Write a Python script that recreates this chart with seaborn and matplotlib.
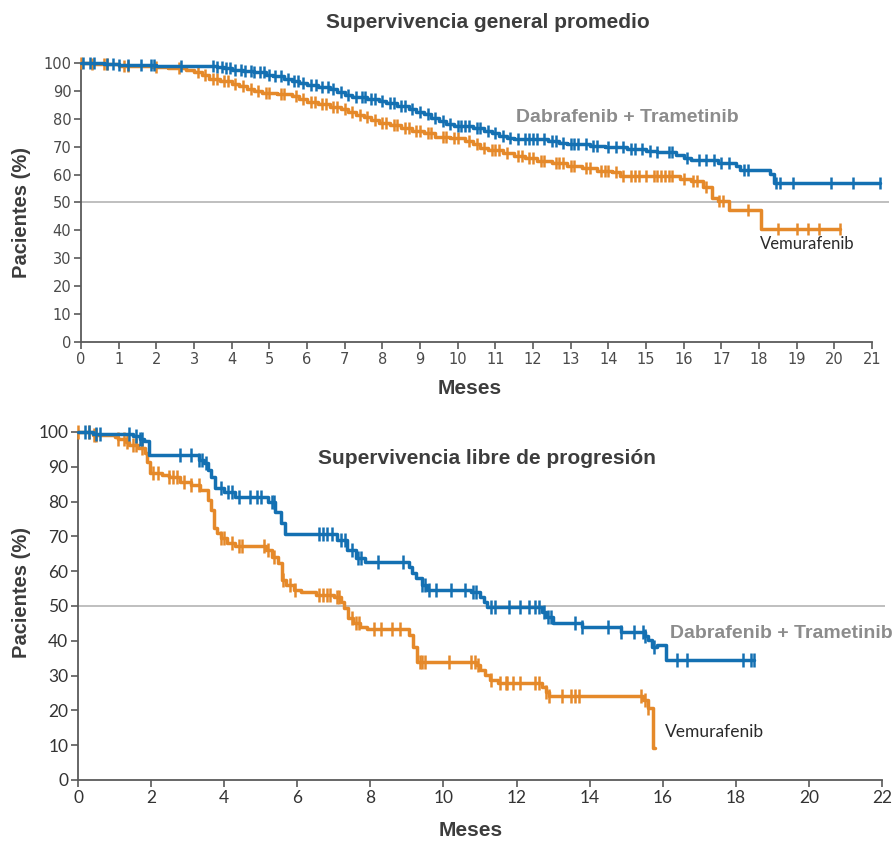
import numpy as np
import pandas as pd
import matplotlib
matplotlib.use("Agg")
import matplotlib.pyplot as plt
import seaborn as sns

# ---------------- DATA ----------------
# Overall survival (top) - step knots (months, %)
os_dt_t = [0, 0.6, 1.0, 2.0, 3.6, 3.8, 4.0, 4.3, 4.6, 4.9, 5.1, 5.4, 5.6, 5.8, 6.0, 6.3, 6.6, 6.8,
           7.0, 7.2, 7.6, 7.9, 8.1, 8.4, 8.7, 8.9, 9.1, 9.3, 9.5, 9.7, 9.9, 10.4, 10.7, 10.9, 11.1,
           11.3, 11.5, 12.4, 12.7, 12.9, 13.5, 13.9, 14.5, 15.0, 15.3, 15.8, 16.0, 16.2, 16.9, 17.4,
           17.5, 18.3, 18.4, 21.2]
os_dt_s = [100, 99.5, 99.2, 99.0, 98.7, 98.2, 97.6, 97.2, 96.6, 95.8, 95.2, 94.4, 93.6, 92.8, 92.0,
           91.4, 90.8, 89.6, 88.6, 87.8, 87.2, 86.4, 85.6, 84.6, 83.6, 82.4, 81.6, 80.4, 79.2, 78.2,
           77.4, 76.8, 75.8, 75.0, 74.0, 73.2, 72.7, 72.0, 71.4, 70.8, 70.4, 69.8, 69.2, 68.6, 68.1,
           67.2, 66.0, 65.4, 64.2, 63.0, 61.6, 60.3, 57.1, 57.1]
os_v_t = [0, 0.3, 1.0, 1.9, 2.3, 2.8, 3.0, 3.2, 3.4, 3.7, 4.0, 4.2, 4.4, 4.6, 4.8, 5.2, 5.6, 5.8, 6.0,
          6.3, 6.6, 6.9, 7.1, 7.3, 7.5, 7.7, 7.9, 8.2, 8.5, 8.8, 9.1, 9.4, 9.8, 10.2, 10.4, 10.6, 10.8,
          11.2, 11.5, 11.8, 12.1, 12.5, 12.9, 13.3, 13.7, 14.1, 14.3, 15.9, 16.2, 16.5, 16.75, 16.9,
          17.2, 18.05, 20.15]
os_v_s = [100, 99.5, 99.0, 98.6, 98.1, 97.4, 96.6, 95.6, 94.4, 93.4, 92.6, 91.6, 90.6, 90.0, 89.4,
          88.8, 88.0, 87.2, 86.2, 85.2, 84.4, 83.6, 82.6, 81.4, 80.6, 79.6, 78.6, 77.8, 76.8, 75.8,
          74.8, 73.6, 73.0, 72.2, 70.8, 69.6, 68.8, 67.8, 66.8, 65.8, 64.8, 64.0, 63.2, 62.4, 61.4,
          60.8, 59.6, 58.4, 57.6, 55.6, 51.6, 50.6, 47.3, 40.5, 40.5]
os_dt_cens = [0.05, 0.25, 0.35, 0.7, 0.85, 1.0, 1.25, 1.6, 1.85, 1.95, 2.65, 3.5, 3.6, 3.75, 3.85,
              3.95, 4.1, 4.25, 4.35, 4.5, 4.6, 4.75, 4.85, 5.0, 5.15, 5.3, 5.5, 5.65, 5.75, 5.9, 6.1,
              6.25, 6.4, 6.55, 6.7, 6.9, 7.1, 7.3, 7.45, 7.55, 7.7, 7.8, 8.0, 8.2, 8.3, 8.5, 8.6,
              8.8, 9.0, 9.2, 9.4, 9.6, 9.8, 10.0, 10.1, 10.2, 10.3, 10.5, 10.6, 10.8, 11.0, 11.2,
              11.4, 11.6, 11.8, 11.9, 12.0, 12.1, 12.3, 12.5, 12.6, 12.8, 13.0, 13.1, 13.2, 13.4,
              13.6, 13.7, 14.0, 14.2, 14.4, 14.6, 14.7, 14.9, 15.1, 15.3, 15.6, 15.7, 16.1, 16.4,
              16.6, 16.8, 17.0, 17.2, 17.6, 17.7, 18.45, 18.55, 18.9, 19.9, 20.5, 21.2]
os_v_cens = [0.0, 0.3, 0.6, 0.7, 1.15, 1.25, 2.0, 2.6, 3.1, 3.3, 3.5, 3.6, 3.8, 3.9, 4.1, 4.3, 4.5,
             4.7, 4.9, 5.0, 5.3, 5.4, 5.7, 5.9, 6.1, 6.2, 6.4, 6.5, 6.7, 6.8, 7.0, 7.2, 7.4, 7.6,
             7.8, 8.0, 8.1, 8.3, 8.4, 8.6, 8.7, 8.9, 9.0, 9.2, 9.3, 9.6, 9.7, 9.9, 10.0, 10.3, 10.5,
             10.7, 10.9, 11.0, 11.1, 11.3, 11.6, 11.7, 11.9, 12.0, 12.2, 12.3, 12.6, 12.7, 12.8,
             13.0, 13.1, 13.4, 13.5, 13.8, 13.9, 14.0, 14.2, 14.4, 14.6, 14.7, 14.8, 15.0, 15.2,
             15.3, 15.4, 15.5, 15.6, 15.7, 16.0, 16.25, 16.35, 16.6, 16.95, 17.05, 17.7, 18.5,
             19.0, 19.3, 19.6, 20.15]

# Progression-free survival (bottom)
pfs_dt_t = [0, 0.4, 1.5, 1.7, 1.8, 1.95, 3.3, 3.45, 3.55, 3.65, 3.75, 4.0, 4.3, 5.2, 5.4, 5.55,
            5.65, 7.1, 7.35, 7.6, 7.85, 9.05, 9.15, 9.25, 9.4, 9.55, 10.75, 11.0, 11.1, 11.2, 12.7,
            12.8, 13.0, 13.8, 14.85, 15.5, 15.6, 15.7, 15.85, 16.1, 18.5]
pfs_dt_s = [100, 99.3, 98.8, 98.0, 97.5, 93.4, 92.0, 91.0, 89.0, 87.0, 84.0, 82.8, 81.3, 79.9, 77.0,
            73.8, 70.7, 69.0, 66.1, 63.8, 62.6, 61.2, 59.5, 58.0, 56.0, 54.6, 54.0, 52.6, 51.1,
            49.7, 48.3, 46.8, 45.1, 44.0, 42.6, 41.5, 40.2, 38.2, 38.8, 34.5, 34.5]
pfs_v_t = [0, 0.4, 1.0, 1.1, 1.3, 1.4, 1.65, 1.83, 1.9, 1.97, 2.3, 2.5, 2.8, 3.1, 3.35, 3.57, 3.65,
           3.72, 3.8, 3.9, 4.07, 4.3, 5.15, 5.3, 5.48, 5.57, 5.7, 5.9, 6.1, 6.5, 7.0, 7.2, 7.28,
           7.4, 7.53, 7.72, 7.9, 9.05, 9.17, 9.27, 10.9, 11.0, 11.13, 11.27, 11.5, 12.7, 12.8,
           12.9, 15.45, 15.6, 15.73, 15.8]
pfs_v_s = [100, 99.1, 98.7, 98.0, 97.1, 96.2, 95.5, 94.0, 91.4, 88.2, 87.6, 87.1, 85.7, 84.8, 83.3,
           80.5, 77.6, 72.4, 71.0, 69.5, 68.1, 67.3, 66.1, 64.1, 62.3, 57.5, 56.0, 54.6, 54.0,
           53.2, 52.6, 51.1, 49.4, 46.5, 45.1, 44.0, 43.4, 41.7, 38.2, 33.9, 33.0, 31.6, 30.2,
           28.7, 27.9, 26.8, 25.4, 24.0, 23.0, 20.7, 9.2, 9.2]
pfs_dt_cens = [0.2, 0.3, 0.5, 0.6, 1.4, 1.6, 1.7, 1.75, 2.8, 3.1, 3.3, 3.4, 3.5, 3.9, 4.1, 4.2,
               4.4, 4.7, 4.9, 5.0, 5.3, 5.35, 6.6, 6.7, 6.8, 6.95, 7.2, 7.3, 7.5, 7.65, 7.75, 8.2,
               8.9, 9.4, 9.5, 9.6, 9.8, 10.2, 10.6, 10.8, 10.9, 11.3, 11.4, 11.8, 12.1, 12.35,
               12.5, 12.6, 12.75, 12.85, 12.95, 13.6, 13.8, 14.5, 14.85, 15.2, 15.45, 15.5, 15.75,
               16.4, 16.65, 18.2, 18.4, 18.5]
pfs_v_cens = [0.0, 0.3, 0.45, 0.5, 1.1, 1.25, 1.35, 1.5, 1.6, 1.75, 2.05, 2.2, 2.5, 2.6, 2.7, 2.9,
              3.1, 3.3, 3.9, 4.0, 4.2, 4.4, 4.5, 5.1, 5.2, 5.35, 5.6, 5.8, 5.95, 6.6, 6.7, 6.8,
              6.9, 7.1, 7.15, 7.5, 7.6, 7.7, 8.1, 8.3, 8.6, 8.8, 9.35, 9.4, 9.5, 10.15, 10.75,
              10.85, 10.95, 11.3, 11.55, 11.7, 11.75, 11.9, 12.1, 12.5, 12.6, 12.8, 12.9, 13.25,
              13.5, 13.6, 13.7, 15.4, 15.5, 15.6]

# ---------------- STYLE ----------------
sns.set_theme(style="white")
plt.rcParams["font.family"] = ["DejaVu Sans"]
BLUE = "#1470b2"
ORANGE = "#e5892a"
DARK = "#3d3d3d"
GRAYLBL = "#8c8c8c"

W, H = 892, 841
fig = plt.figure(figsize=(W / 100, H / 100), dpi=100)


def px_rect(left, right, top, bottom):
    return [left / W, 1 - bottom / H, (right - left) / W, (bottom - top) / H]


def step_df(t, s):
    return pd.DataFrame({"t": t, "s": s})


def cens_df(t, s, c):
    t = np.asarray(t)
    s = np.asarray(s)
    idx = np.searchsorted(t, c, side="right") - 1
    return pd.DataFrame({"t": c, "s": s[idx]})


def draw_km(ax, t, s, cens, color, msize, z):
    sns.lineplot(data=step_df(t, s), x="t", y="s", ax=ax, color=color, linewidth=2.5,
                 drawstyle="steps-post", estimator=None, sort=False, zorder=z, clip_on=False)
    sns.scatterplot(data=cens_df(t, s, cens), x="t", y="s", ax=ax, color=color, marker="|",
                    s=msize, linewidth=1.8, zorder=z, clip_on=False)


def style_axes(ax, xmax, xbound, xticks, tickfont, ticksize, tickcolor):
    ax.set_xlim(0, xmax)
    ax.set_ylim(0, 100)
    for sp in ["top", "right"]:
        ax.spines[sp].set_visible(False)
    for sp in ["left", "bottom"]:
        ax.spines[sp].set_color("#5a5a5a")
        ax.spines[sp].set_linewidth(1.3)
    ax.spines["bottom"].set_bounds(0, xbound)
    ax.set_xticks(xticks)
    ax.set_yticks(range(0, 101, 10))
    ax.tick_params(axis="both", direction="out", length=5, width=1.2, color="#5a5a5a",
                   labelsize=ticksize, labelcolor=tickcolor, pad=2, left=True, bottom=True,
                   labelfontfamily=tickfont)
    ax.axhline(50, color="#b4b4b4", linewidth=1.2, zorder=1)
    ax.set_xlabel("")
    ax.set_ylabel("")
    ax.patch.set_alpha(0)


# ---------------- TOP: overall survival ----------------
ax1 = fig.add_axes(px_rect(81, 889, 63, 342))
draw_km(ax1, os_v_t, os_v_s, os_v_cens, ORANGE, 75, 3)
draw_km(ax1, os_dt_t, os_dt_s, os_dt_cens, BLUE, 75, 4)
style_axes(ax1, 21.45, 21, list(range(0, 22)), "DejaVu Sans", 10.5, "#4a4a4a")

# ---------------- BOTTOM: progression-free survival ----------------
ax2 = fig.add_axes(px_rect(78, 885, 432, 780))
draw_km(ax2, pfs_v_t, pfs_v_s, pfs_v_cens, ORANGE, 95, 3)
draw_km(ax2, pfs_dt_t, pfs_dt_s, pfs_dt_cens, BLUE, 95, 4)
style_axes(ax2, 22.08, 22, list(range(0, 23, 2)), "Lato", 12.5, "#333333")

# ---------------- TEXTS ----------------
def ftext(x, y, s, **kw):
    fig.text(x / W, 1 - y / H, s, **kw)


BOLD = dict(family=["Liberation Sans", "DejaVu Sans"], fontweight="bold")
ftext(488, 22, "Supervivencia general promedio", ha="center", va="center", fontsize=15,
      color=DARK, **BOLD)
ftext(487, 458, "Supervivencia libre de progresión", ha="center", va="center", fontsize=15,
      color=DARK, **BOLD)
ftext(22, 213, "Pacientes (%)", ha="center", va="center", rotation=90, fontsize=14.5,
      color=DARK, **BOLD)
ftext(22, 592, "Pacientes (%)", ha="center", va="center", rotation=90, fontsize=14.5,
      color=DARK, **BOLD)
ftext(470, 388, "Meses", ha="center", va="center", fontsize=15, color=DARK, **BOLD)
ftext(471, 830, "Meses", ha="center", va="center", fontsize=15, color=DARK, **BOLD)
ftext(516, 117, "Dabrafenib + Trametinib", ha="left", va="center", fontsize=14,
      color=GRAYLBL, **BOLD)
ftext(670, 633, "Dabrafenib + Trametinib", ha="left", va="center", fontsize=14,
      color=GRAYLBL, **BOLD)
ftext(760, 244, "Vemurafenib", ha="left", va="center", fontsize=12, color="#2a2a2a",
      family=["Lato", "DejaVu Sans"])
ftext(665, 732, "Vemurafenib", ha="left", va="center", fontsize=12.5, color="#2a2a2a",
      family=["Lato", "DejaVu Sans"])

fig.savefig("out.png", dpi=100)
